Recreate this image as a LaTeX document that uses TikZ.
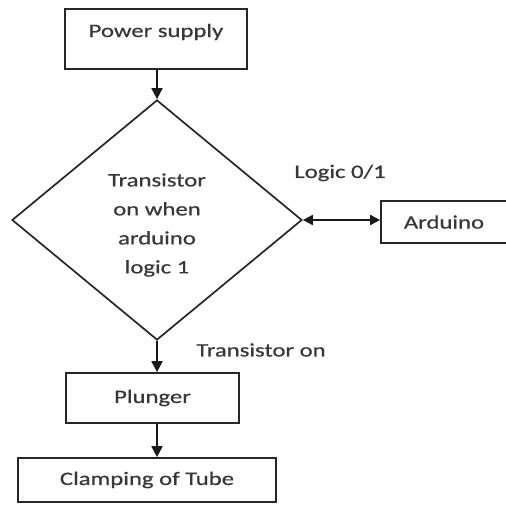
\documentclass[tikz,border=0pt]{standalone}
\usepackage{fontspec}
\setmainfont{Carlito}[FakeStretch=1.3,FakeBold=0.6]
\usetikzlibrary{shapes.geometric,arrows.meta}
\begin{document}
\begin{tikzpicture}[x=1pt,y=1pt,
  every node/.style={font=\fontsize{19}{29}\selectfont, text=black!78},
  box/.style={draw=black!85, line width=1.7pt, inner sep=0pt, align=center},
  conn/.style={draw=black!90, line width=1.7pt, -{Triangle[length=11pt,width=11pt]}},
  biconn/.style={draw=black!90, line width=1.7pt, {Triangle[length=10pt,width=10pt]}-{Triangle[length=10pt,width=10pt]}},
  lbl/.style={inner sep=0pt}]
\useasboundingbox (0,0) rectangle (506,-504);
\node[box, minimum width=182pt, minimum height=60pt, text height=13pt, text depth=17pt] (ps) at (156,-39) {Power supply};
\node[box, diamond, minimum width=290pt, minimum height=240pt, aspect=1.2] (dia) at (157,-220) {};
\node[align=center, inner sep=0pt] (diatext) at (157,-225) {Transistor\\on when\\arduino\\logic 1};
\node[box, minimum width=126pt, minimum height=42pt] (ard) at (444,-222) {Arduino};
\node[lbl] (logic) at (340,-173) {Logic 0/1};
\node[lbl] (ton) at (261,-350) {Transistor on};
\node[box, minimum width=173pt, minimum height=50pt] (pl) at (152.5,-398) {Plunger};
\node[box, minimum width=258pt, minimum height=44pt] (cl) at (147,-480) {Clamping of Tube};
\draw[conn] (ps.south -| dia.north) -- (dia.north);
\draw[biconn] (dia.east) -- (ard.west |- dia.east);
\draw[conn] (dia.south) -- (dia.south |- pl.north);
\draw[conn] (pl.south -| dia.south) -- (dia.south |- cl.north);
\end{tikzpicture}
\end{document}
